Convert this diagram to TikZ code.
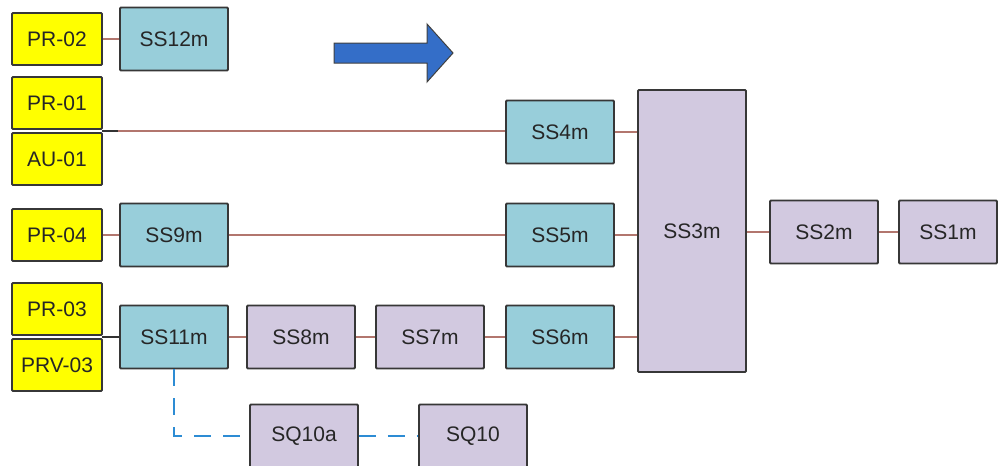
\documentclass[tikz,border=0pt]{standalone}
\usepackage{fontspec}
\setmainfont{Liberation Sans}
\definecolor{prYellow}{RGB}{255,255,0}
\definecolor{ssCyan}{RGB}{152,206,218}
\definecolor{ssLilac}{RGB}{210,201,224}
\definecolor{boxEdge}{RGB}{55,55,55}
\definecolor{linkBrown}{RGB}{178,118,110}
\definecolor{dashBlue}{RGB}{45,140,212}
\definecolor{arrowBlue}{RGB}{52,110,200}
\tikzset{
  box/.style={draw=boxEdge, line width=1.8pt, rounded corners=1pt, text=black!85,
    font=\fontsize{21}{23}\selectfont, inner sep=0pt},
  prbox/.style={box, fill=prYellow, minimum width=90pt, minimum height=52pt},
  cyanbox/.style={box, fill=ssCyan, minimum width=108pt, minimum height=63pt},
  lilacbox/.style={box, fill=ssLilac, minimum width=108pt, minimum height=63pt},
  link/.style={draw=linkBrown, line width=1.3pt},
  stub/.style={draw=black!80, line width=1.3pt},
  sqlink/.style={draw=dashBlue, line width=2.2pt, dash pattern=on 17pt off 12pt}
}
\begin{document}
\begin{tikzpicture}[x=1pt,y=-1pt]
  \useasboundingbox (0,0) rectangle (999,466);

  % sources on the left
  \node[prbox] (pr02) at (57,39) {PR-02};
  \node[prbox] (pr01) at (57,103) {PR-01};
  \node[prbox] (au01) at (57,159) {AU-01};
  \node[prbox] (pr04) at (57,235) {PR-04};
  \node[prbox] (pr03) at (57,309) {PR-03};
  \node[prbox] (prv03) at (57,365) {PRV-03};

  % substations
  \node[cyanbox] (ss12) at (174,39) {SS12m};
  \node[cyanbox] (ss4) at (560,132) {SS4m};
  \node[cyanbox] (ss9) at (174,235) {SS9m};
  \node[cyanbox] (ss5) at (560,235) {SS5m};
  \node[cyanbox] (ss11) at (174,337) {SS11m};
  \node[lilacbox] (ss8) at (301,337) {SS8m};
  \node[lilacbox] (ss7) at (430,337) {SS7m};
  \node[cyanbox] (ss6) at (560,337) {SS6m};
  \node[lilacbox, minimum height=282pt] (ss3) at (692,231) {SS3m};
  \node[lilacbox] (ss2) at (824,232) {SS2m};
  \node[lilacbox, minimum width=98pt] (ss1) at (948,232) {SS1m};
  \node[lilacbox] (sq10a) at (304,436) {SQ10a};
  \node[lilacbox] (sq10) at (473,436) {SQ10};

  % junctions between stacked sources
  \coordinate (j1) at (102,131);
  \coordinate (j1e) at (118,131);
  \coordinate (j3) at (102,337);

  % connections
  \draw[link] (pr02) -- (ss12);
  \draw[link] (j1) -- (ss4.west |- j1);
  \draw[stub] (j1) -- (j1e);
  \draw[link] (ss4.east) -- (ss4.east -| ss3.west);
  \draw[link] (pr04) -- (ss9);
  \draw[link] (ss9) -- (ss5);
  \draw[link] (ss5.east) -- (ss5.east -| ss3.west);
  \draw[stub] (j3) -- (ss11.west);
  \draw[link] (ss11) -- (ss8);
  \draw[link] (ss8) -- (ss7);
  \draw[link] (ss7) -- (ss6);
  \draw[link] (ss6.east) -- (ss6.east -| ss3.west);
  \draw[link] (ss3.east |- ss2) -- (ss2);
  \draw[link] (ss2) -- (ss1);
  \draw[sqlink] (ss11.south) |- (sq10a.west);
  \draw[sqlink] (sq10a) -- (sq10);

  % flow direction arrow
  \filldraw[fill=arrowBlue, draw=black!75, line width=1pt, line join=miter]
    (334,43) -- (427,43) -- (427,24) -- (453,53) -- (427,82) -- (427,63) -- (334,63) -- cycle;
\end{tikzpicture}
\end{document}
